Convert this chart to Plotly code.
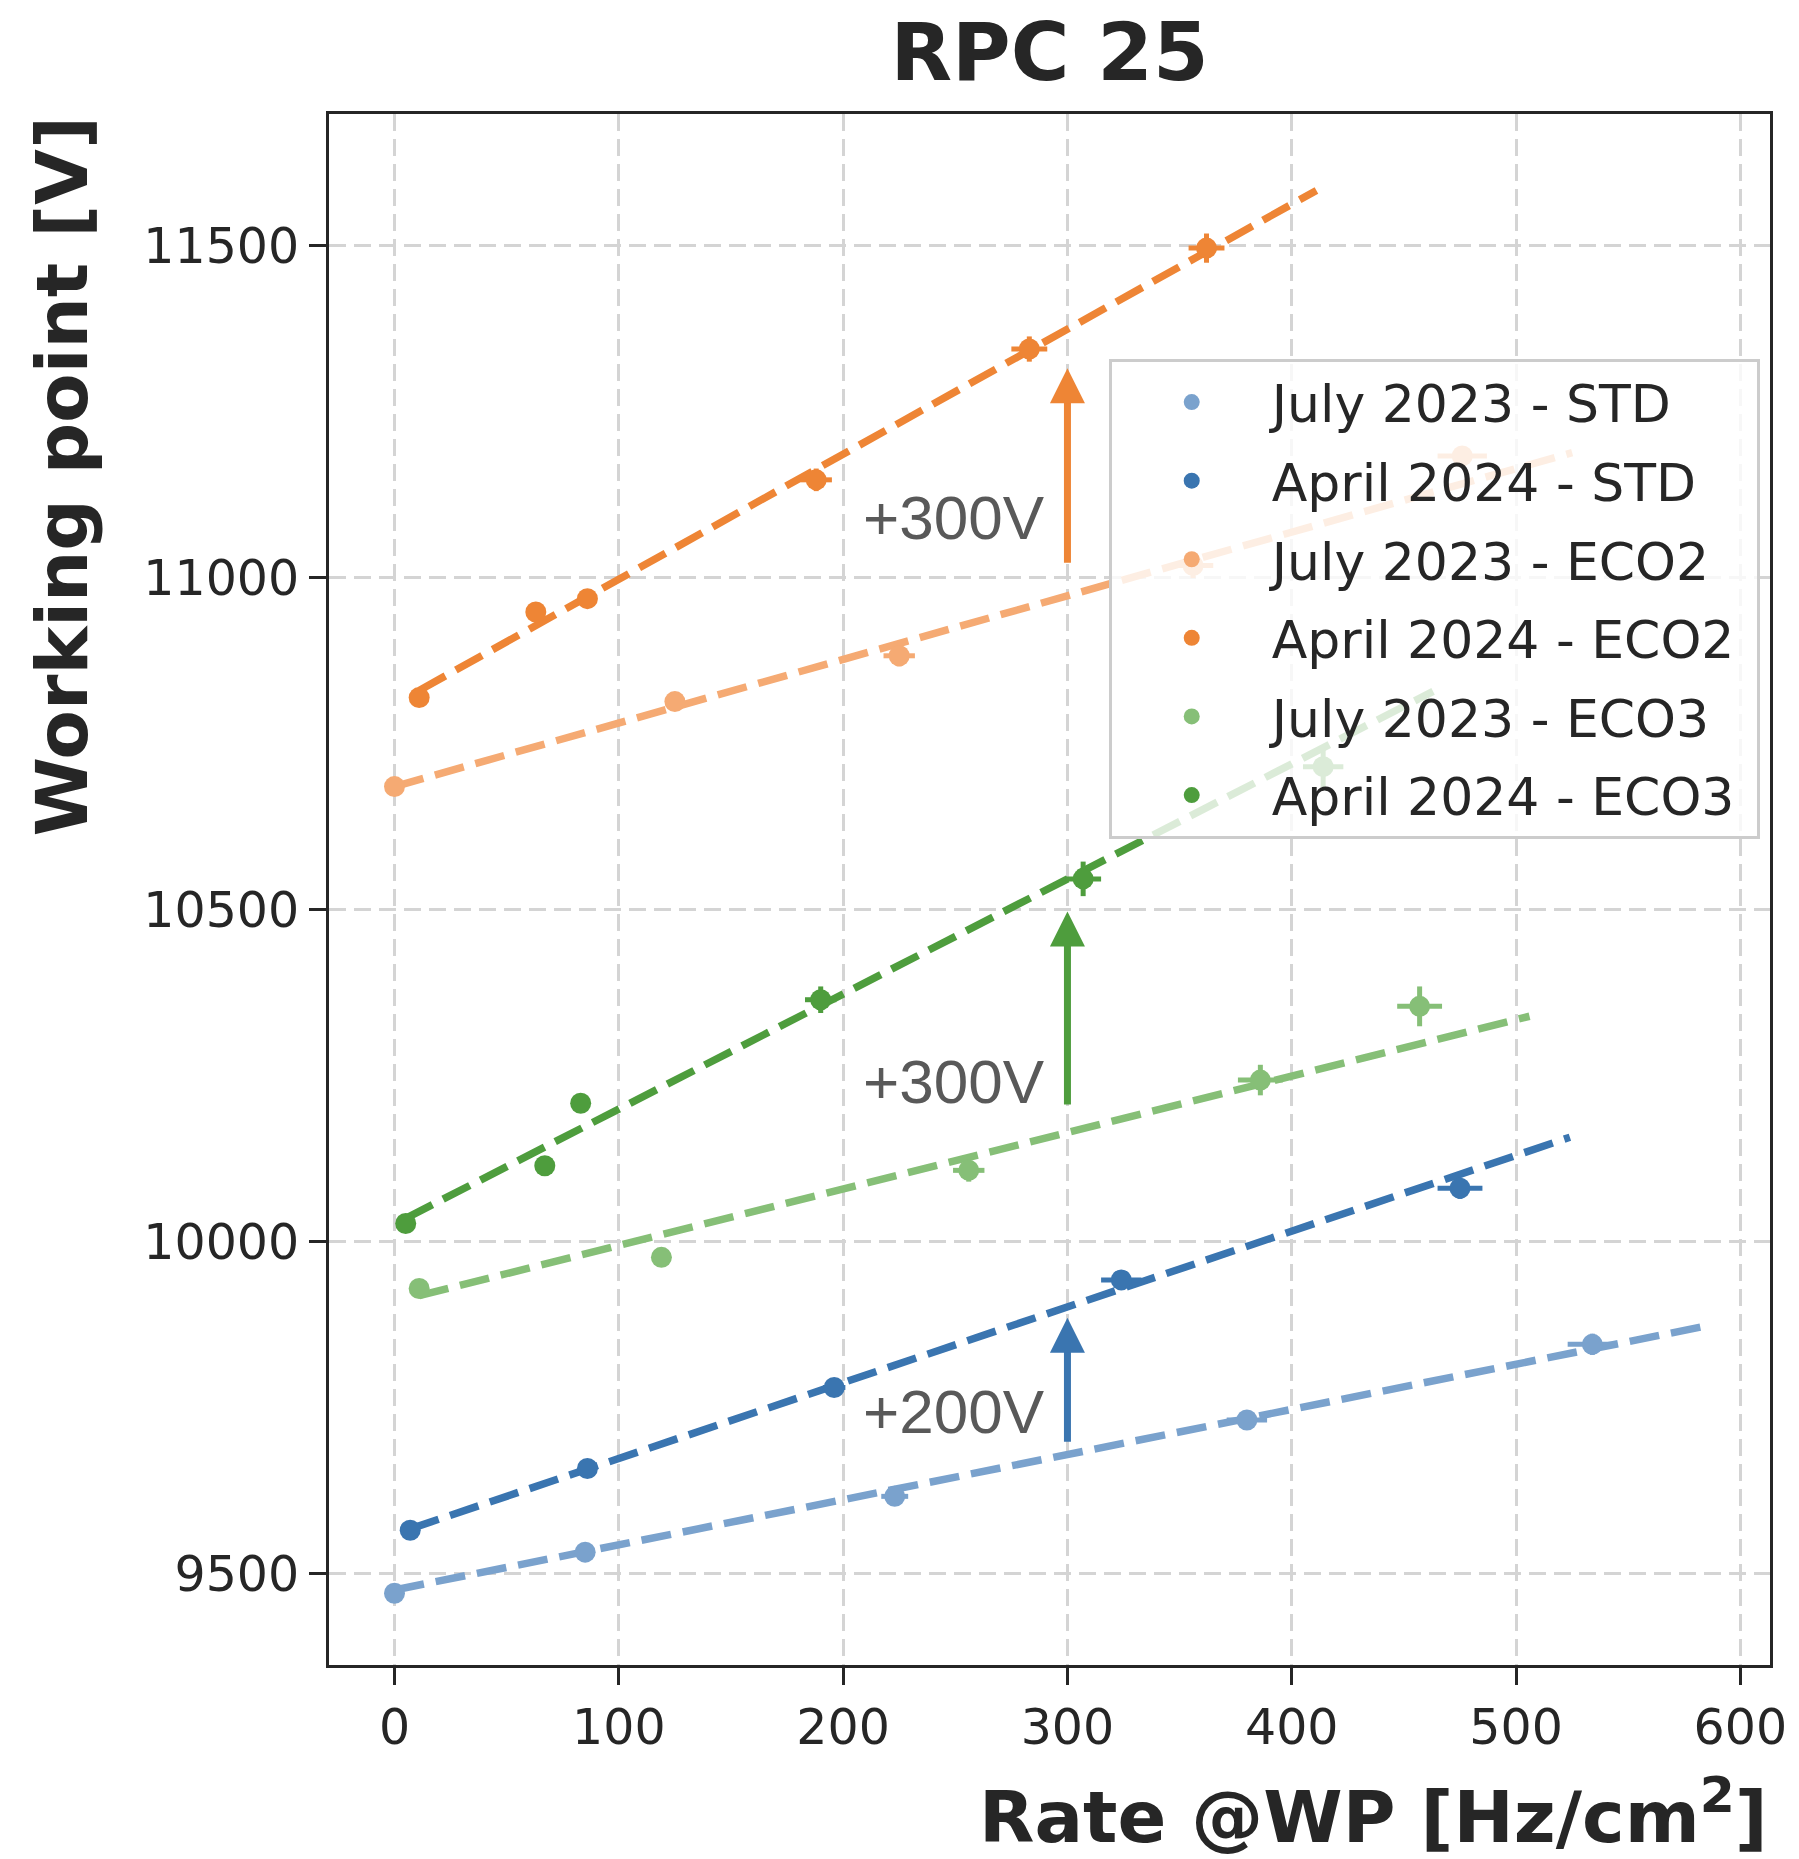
import plotly.graph_objects as go

# ---------------- data ----------------
series_names = ["July 2023 - STD", "April 2024 - STD", "July 2023 - ECO2",
                "April 2024 - ECO2", "July 2023 - ECO3", "April 2024 - ECO3"]
series_colors = ["#7aa2cd", "#3a75b0", "#f5aa73", "#ee8535", "#86bf77", "#4e9d3d"]

rate_july_std = [0, 85, 223, 380, 534]
wp_july_std = [9470, 9532, 9616, 9731, 9845]
rate_err_july_std = [1, 2, 6, 9, 11]
wp_err_july_std = [3, 4, 8, 10, 16]

rate_april_std = [7, 86, 196, 324, 475]
wp_april_std = [9565, 9658, 9780, 9942, 10080]
rate_err_april_std = [1, 2, 5, 9, 10]
wp_err_april_std = [3, 5, 8, 12, 16]

rate_july_eco2 = [0, 125, 225, 356, 476]
wp_july_eco2 = [10685, 10813, 10882, 11018, 11183]
rate_err_july_eco2 = [1, 3, 7, 9, 11]
wp_err_july_eco2 = [4, 6, 16, 19, 15]

rate_april_eco2 = [11, 63, 86, 188, 283, 362]
wp_april_eco2 = [10819, 10948, 10968, 11147, 11344, 11496]
rate_err_april_eco2 = [1, 2, 2, 7, 8, 8]
wp_err_april_eco2 = [4, 6, 6, 17, 19, 22]

rate_july_eco3 = [11, 119, 256, 386, 457]
wp_july_eco3 = [9929, 9976, 10107, 10243, 10354]
rate_err_july_eco3 = [1, 3, 7, 10, 10]
wp_err_july_eco3 = [4, 6, 17, 23, 30]

rate_april_eco3 = [5, 67, 83, 190, 307, 414]
wp_april_eco3 = [10027, 10114, 10208, 10364, 10546, 10715]
rate_err_april_eco3 = [1, 2, 2, 7, 8, 9]
wp_err_april_eco3 = [4, 6, 6, 20, 26, 31]

# linear fits as drawn (intercept at rate 0, slope V per Hz/cm2)
fit_intercepts = [9475, 9559, 10685, 10809, 9909, 10026]
fit_slopes = [0.680, 1.141, 0.958, 1.883, 0.850, 1.733]
fit_extension = 49

# arrows (+HV shift) at rate = 300
arrow_rate = [300, 300, 300]
arrow_from = [9696, 10204, 11020]
arrow_to = [9885, 10497, 11315]
arrow_labels = ["+200V", "+300V", "+300V"]
arrow_label_wp = [9744, 10241, 11090]
arrow_label_rate = [291, 291, 291]
arrow_colors = ["#3a75b0", "#4e9d3d", "#ee8535"]

x_ticks = [0, 100, 200, 300, 400, 500, 600]
x_tick_text = ["0", "100", "200", "300", "400", "500", "600"]
y_ticks = [9500, 10000, 10500, 11000, 11500]
y_tick_text = ["9500", "10000", "10500", "11000", "11500"]

rates = [rate_july_std, rate_april_std, rate_july_eco2, rate_april_eco2, rate_july_eco3, rate_april_eco3]
wps = [wp_july_std, wp_april_std, wp_july_eco2, wp_april_eco2, wp_july_eco3, wp_april_eco3]
rate_errs = [rate_err_july_std, rate_err_april_std, rate_err_july_eco2, rate_err_april_eco2,
             rate_err_july_eco3, rate_err_april_eco3]
wp_errs = [wp_err_july_std, wp_err_april_std, wp_err_july_eco2, wp_err_april_eco2,
           wp_err_july_eco3, wp_err_april_eco3]

TXT = "#262626"
FONT = "DejaVu Sans"

fig = go.Figure()

# fit lines
for i in range(6):
    x0 = min(rates[i])
    x1 = max(rates[i]) + fit_extension
    fig.add_trace(go.Scatter(
        x=[x0, x1],
        y=[fit_intercepts[i] + fit_slopes[i] * x0, fit_intercepts[i] + fit_slopes[i] * x1],
        mode="lines", line=dict(color=series_colors[i], width=7.5, dash="30px,12px"),
        showlegend=False, hoverinfo="skip"))

# data points with error bars
for i in range(6):
    fig.add_trace(go.Scatter(
        x=rates[i], y=wps[i], mode="markers", name=series_names[i] + "\u00a0",
        legendgroup=series_names[i],
        marker=dict(color=series_colors[i], size=21, line=dict(width=0)),
        error_x=dict(type="data", array=rate_errs[i], color=series_colors[i], thickness=5, width=0),
        error_y=dict(type="data", array=wp_errs[i], color=series_colors[i], thickness=5, width=0)))

annotations = []
for i in range(len(arrow_rate)):
    annotations.append(dict(
        x=arrow_rate[i], y=arrow_to[i], ax=arrow_rate[i], ay=arrow_from[i],
        xref="x", yref="y", axref="x", ayref="y", text="", showarrow=True,
        arrowhead=2, arrowsize=1.0, arrowwidth=7, arrowcolor=arrow_colors[i], standoff=0))
    annotations.append(dict(
        x=arrow_label_rate[i], y=arrow_label_wp[i], xref="x", yref="y",
        text=arrow_labels[i], showarrow=False, xanchor="right", yanchor="middle",
        font=dict(family="Liberation Sans", size=62, color="#595959")))

# axis titles
annotations.append(dict(
    x=1.0, y=-0.0945, xref="paper", yref="paper", xanchor="right", yanchor="middle",
    text="Rate @WP [Hz/cm<sup>2</sup>]", showarrow=False,
    font=dict(family=FONT, size=72, color=TXT, weight="bold")))
annotations.append(dict(
    x=-0.185, y=1.0, xref="paper", yref="paper", xanchor="center", yanchor="top",
    text="Working point [V]", textangle=-90, showarrow=False,
    font=dict(family=FONT, size=72, color=TXT, weight="bold")))

axis_common = dict(
    showline=True, mirror=True, linecolor=TXT, linewidth=3,
    ticks="outside", ticklen=17, tickwidth=3, tickcolor=TXT,
    showgrid=True, gridcolor="#d4d4d4", gridwidth=2.5, griddash="17px,8px",
    zeroline=False, tickfont=dict(family=FONT, size=49, color=TXT))

fig.update_layout(
    width=1799, height=1859, autosize=False,
    margin=dict(l=329, r=19, t=114, b=194),
    paper_bgcolor="white", plot_bgcolor="white",
    title=dict(text="RPC 25", x=0.5, xref="paper", xanchor="center",
               y=1 - 51.5 / 1859, yref="container", yanchor="middle",
               font=dict(family=FONT, size=80, color=TXT, weight="bold")),
    xaxis=dict(range=[-29.2, 613.2], tickvals=x_ticks, ticktext=x_tick_text, **axis_common),
    yaxis=dict(range=[9362, 11698], tickvals=y_ticks, ticktext=y_tick_text, **axis_common),
    legend=dict(x=0.5411, y=0.8422, xanchor="left", yanchor="top",
                bgcolor="rgba(255,255,255,0.8)", bordercolor="#cccccc", borderwidth=3,
                font=dict(family=FONT, size=52, color=TXT),
                itemwidth=150, tracegroupgap=8),
    annotations=annotations,
    showlegend=True,
)

fig.write_html("out.html")
